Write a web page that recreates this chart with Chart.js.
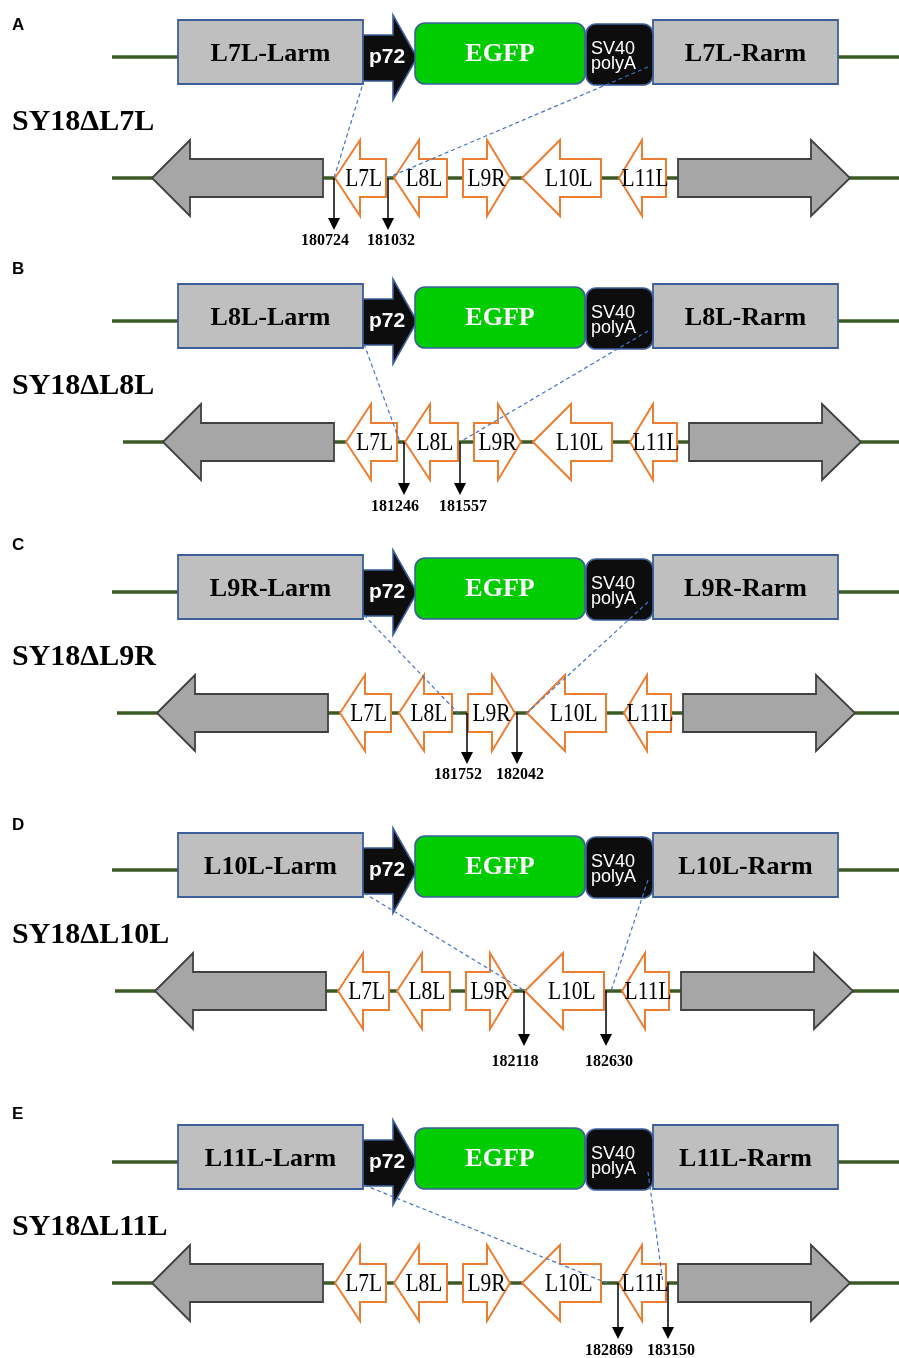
<!DOCTYPE html>
<html>
<head>
<meta charset="utf-8">
<script src="https://cdn.jsdelivr.net/npm/chart.js@4/dist/chart.umd.min.js"></script>
<style>
  html, body { margin: 0; padding: 0; background: #ffffff; }
  #wrap { width: 899px; height: 1358px; }
</style>
</head>
<body>
<div id="wrap"><canvas id="map" width="899" height="1358"></canvas></div>
<script>
// SY18 deletion mutants: in each one a gene is swapped for a p72-EGFP-SV40 polyA cassette
const panelLetters = ['A', 'B', 'C', 'D', 'E'];
const deletedGenes = ['L7L', 'L8L', 'L9R', 'L10L', 'L11L'];
const breakpointStart = [180724, 181246, 181752, 182118, 182869];
const breakpointEnd = [181032, 181557, 182042, 182630, 183150];

// Gene map of the locus, in schematic units along the x axis
const geneNames = ['', 'L7L', 'L8L', 'L9R', 'L10L', 'L11L', ''];
const geneFrom = [152, 335, 394, 463, 522, 619, 678];
const geneNeck = [190, 360, 419, 487, 560, 642, 811];
const geneTo = [323, 386, 447, 510, 601, 666, 850];
const geneStrand = ['-', '-', '-', '+', '-', '-', '+'];
const geneFlanking = [true, false, false, false, false, false, true];

// Transfer vector cassette
const cassetteParts = ['Larm', 'p72', 'EGFP', 'SV40 polyA', 'Rarm'];
const cassetteFrom = [178, 363, 415, 586, 653];
const cassetteTo = [363, 417, 585, 653, 838];

// Points where the homology arms meet the genome in each mutant
const junctionLeft = [334, 389, 453, 522, 607];
const junctionRight = [387, 449, 522, 608, 663];

// Vertical placement of each panel and the drift of its genome track
const panelTop = [0, 264, 535, 813, 1105];
const trackShift = [0, 11, 5, 3, 0];
const letterY = [25, 269, 545, 825, 1114];
const markTip = [230, 231, 229, 233, 234];
const markLabel = [241, 243, 240, 249, 246];

const SERIF = '"Liberation Serif", "Times New Roman", serif';
const SANS = '"Liberation Sans", Arial, sans-serif';
const COLORS = {
  dna: '#3b5a26',
  arm: '#bfbfbf',
  armEdge: '#3d5f9c',
  green: '#00cc00',
  black: '#0d0d0d',
  gray: '#a6a6a6',
  grayEdge: '#404040',
  orange: '#ed7d31',
  dash: '#4472c4'
};

const locusPlugin = {
  id: 'locusMap',
  afterDraw(chart) {
    const ctx = chart.ctx;
    const sx = v => chart.scales.x.getPixelForValue(v);
    const sy = v => chart.scales.y.getPixelForValue(v);

    function line(x0, y0, x1, y1, color, w, dash) {
      ctx.save();
      ctx.beginPath();
      ctx.strokeStyle = color;
      ctx.lineWidth = w;
      ctx.setLineDash(dash || []);
      ctx.moveTo(sx(x0), sy(y0));
      ctx.lineTo(sx(x1), sy(y1));
      ctx.stroke();
      ctx.restore();
    }
    function poly(pts, fill, stroke, w) {
      ctx.save();
      ctx.beginPath();
      pts.forEach((p, i) => i ? ctx.lineTo(sx(p[0]), sy(p[1])) : ctx.moveTo(sx(p[0]), sy(p[1])));
      ctx.closePath();
      ctx.lineJoin = 'miter';
      ctx.fillStyle = fill;
      ctx.fill();
      if (stroke) { ctx.strokeStyle = stroke; ctx.lineWidth = w; ctx.stroke(); }
      ctx.restore();
    }
    function rbox(x0, y0, x1, y1, r, fill, stroke, w) {
      ctx.save();
      ctx.beginPath();
      ctx.roundRect(sx(x0), sy(y0), sx(x1) - sx(x0), sy(y1) - sy(y0), r);
      ctx.fillStyle = fill;
      ctx.fill();
      ctx.strokeStyle = stroke;
      ctx.lineWidth = w;
      ctx.stroke();
      ctx.restore();
    }
    function text(str, x, y, font, color, align, squeeze) {
      ctx.save();
      ctx.font = font;
      ctx.fillStyle = color;
      ctx.textAlign = align || 'center';
      ctx.textBaseline = 'middle';
      ctx.translate(sx(x), sy(y));
      if (squeeze) ctx.scale(squeeze, 1);
      ctx.fillText(str, 0, 0);
      ctx.restore();
    }

    panelLetters.forEach((letter, p) => {
      const top = panelTop[p];
      const shift = trackShift[p];
      const del = deletedGenes[p];

      text(letter, 12, letterY[p], 'bold 17px ' + SANS, '#000', 'left');

      // ---- transfer vector ----
      const cy = top + 57;
      line(112, cy, cassetteFrom[0], cy, COLORS.dna, 3.5);
      line(cassetteTo[4], cy, 899, cy, COLORS.dna, 3.5);

      // homology arms
      [0, 4].forEach(i => {
        rbox(cassetteFrom[i], top + 20, cassetteTo[i], top + 84, 0, COLORS.arm, COLORS.armEdge, 1.8);
        const armLabel = del + '-' + cassetteParts[i];
        text(armLabel, (cassetteFrom[i] + cassetteTo[i]) / 2, top + 54.5, 'bold 26px ' + SERIF, '#000');
      });

      // p72 promoter arrow
      const pf = cassetteFrom[1], pt = cassetteTo[1], pn = pt - 24;
      poly([[pf, top + 35], [pn, top + 35], [pn, top + 15], [pt, top + 57.5],
            [pn, top + 100], [pn, top + 81], [pf, top + 81]], COLORS.black, COLORS.armEdge, 1.6);
      text(cassetteParts[1], (pf + pn) / 2 + 9, top + 57, 'bold 21px ' + SANS, '#fff');

      // EGFP
      rbox(cassetteFrom[2], top + 23, cassetteTo[2], top + 84, 10, COLORS.green, COLORS.armEdge, 1.6);
      text(cassetteParts[2], (cassetteFrom[2] + cassetteTo[2]) / 2, top + 54, 'bold 26px ' + SERIF, '#fff');

      // SV40 polyA
      rbox(cassetteFrom[3], top + 24, cassetteTo[3], top + 85, 10, COLORS.black, COLORS.armEdge, 1.6);
      const pa = cassetteParts[3].split(' ');
      text(pa[0], cassetteFrom[3] + 5, top + 49.5, '18px ' + SANS, '#fff', 'left');
      text(pa[1], cassetteFrom[3] + 5, top + 64.5, '18px ' + SANS, '#fff', 'left');

      // strain name
      text('SY18\u0394' + del, 12, top + 122, 'bold 30px ' + SERIF, '#000', 'left');

      // ---- genome track ----
      const ty = top + 178;
      line(112 + shift, ty, 899, ty, COLORS.dna, 3.5);

      geneNames.forEach((name, g) => {
        const a = geneFrom[g] + shift, n = geneNeck[g] + shift, b = geneTo[g] + shift;
        const pts = geneStrand[g] === '-'
          ? [[a, ty], [n, ty - 38], [n, ty - 19], [b, ty - 19], [b, ty + 19], [n, ty + 19], [n, ty + 38]]
          : [[a, ty - 19], [n, ty - 19], [n, ty - 38], [b, ty], [n, ty + 38], [n, ty + 19], [a, ty + 19]];
        if (geneFlanking[g]) {
          poly(pts, COLORS.gray, COLORS.grayEdge, 1.8);
        } else {
          poly(pts, '#ffffff', COLORS.orange, 2);
          const mid = (a + b) / 2 + (geneStrand[g] === '-' ? 3 + (b - a - 50) * 0.15 : 0);
          text(name, mid, ty + 1, '25px ' + SERIF, '#000', 'center', 0.86);
        }
      });

      // homology junctions
      line(364, top + 80, junctionLeft[p] + shift, ty, COLORS.dash, 1.2, [4, 3]);
      line(648, top + 67, junctionRight[p] + shift, ty, COLORS.dash, 1.2, [4, 3]);

      // deletion breakpoints
      const g = geneNames.indexOf(del);
      const marks = [
        { x: geneFrom[g] - 1 + shift, label: String(breakpointStart[p]), dx: -9 },
        { x: geneTo[g] + 2 + shift, label: String(breakpointEnd[p]), dx: 3 }
      ];
      const tip = top + markTip[p];
      marks.forEach(m => {
        line(m.x, ty, m.x, tip - 11, '#000', 1.5);
        poly([[m.x - 6, tip - 12], [m.x + 6, tip - 12], [m.x, tip]], '#000');
        text(m.label, m.x + m.dx, top + markLabel[p], 'bold 16px ' + SERIF, '#000');
      });
    });
  }
};

new Chart(document.getElementById('map'), {
  type: 'scatter',
  data: { datasets: [] },
  options: {
    responsive: false,
    animation: false,
    devicePixelRatio: 1,
    layout: { padding: 0 },
    scales: {
      x: { type: 'linear', min: 0, max: 899, display: false },
      y: { type: 'linear', min: 0, max: 1358, reverse: true, display: false }
    },
    plugins: { legend: { display: false }, tooltip: { enabled: false } }
  },
  plugins: [locusPlugin]
});
</script>
</body>
</html>
